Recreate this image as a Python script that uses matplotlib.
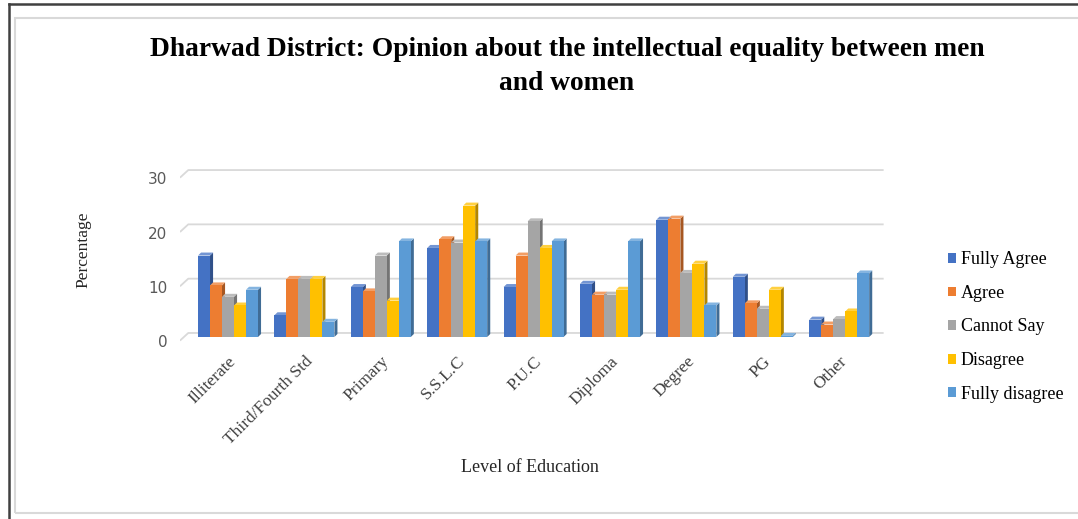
import matplotlib
matplotlib.use('Agg')
import matplotlib.pyplot as plt
from matplotlib.patches import Polygon, Rectangle, Patch
from matplotlib.lines import Line2D
import numpy as np

levels = ['Illiterate', 'Third/Fourth Std', 'Primary', 'S.S.L.C', 'P.U.C',
          'Diploma', 'Degree', 'PG', 'Other']
series = ['Fully Agree', 'Agree', 'Cannot Say', 'Disagree', 'Fully disagree']

fully_agree = [15.0, 4.0, 9.2, 16.4, 9.2, 9.8, 21.6, 11.1, 3.2]
agree = [9.5, 10.7, 8.4, 18.0, 15.0, 7.8, 21.8, 6.2, 2.3]
cannot_say = [7.4, 10.7, 15.0, 17.4, 21.3, 7.8, 11.8, 5.2, 3.3]
disagree = [5.8, 10.7, 6.7, 24.2, 16.4, 8.7, 13.5, 8.7, 4.7]
fully_disagree = [8.7, 2.8, 17.6, 17.6, 17.6, 17.6, 5.8, 0.2, 11.7]

values = [fully_agree, agree, cannot_say, disagree, fully_disagree]
colors = ['#4472C4', '#ED7D31', '#A5A5A5', '#FFC000', '#5B9BD5']


def shade(c, f):
    rgb = np.array(matplotlib.colors.to_rgb(c))
    if f < 1:
        return tuple(rgb * f)
    return tuple(rgb + (1 - rgb) * (f - 1))


fig = plt.figure(figsize=(10.78, 5.19), dpi=100)
ax = fig.add_axes([0.167, 0.3353, 0.6586, 0.3565])
ax.set_xlim(-0.628, 8.665)
ax.set_ylim(-1.47, 32.6)

# fake 3d depth of the bars (x units, y units)
dx, dy = 0.04, 0.55
w = 0.157

# back wall gridlines with a slanted lead-in on the left
for v in [0, 10, 20, 30]:
    ax.plot([-0.62, -0.52, 8.57], [v - 0.55, v + 0.74, v + 0.74],
            color='#d9d9d9', lw=1.3, zorder=0)

x = np.arange(len(levels))
for i, vals in enumerate(values):
    c = colors[i]
    for xi, h in zip(x, vals):
        x0 = xi + (i - 2.5) * w
        x1 = x0 + w
        ax.add_patch(Rectangle((x0, 0), w, h, facecolor=c, edgecolor='none', zorder=3))
        ax.add_patch(Polygon([(x1, 0), (x1 + dx, dy), (x1 + dx, h + dy), (x1, h)],
                             facecolor=shade(c, 0.7), edgecolor='none', zorder=2))
        ax.add_patch(Polygon([(x0, h), (x1, h), (x1 + dx, h + dy), (x0 + dx, h + dy)],
                             facecolor=shade(c, 1.25), edgecolor='none', zorder=2))

ax.set_yticks([-0.8, 9.2, 19.2, 29.2])
ax.set_yticklabels(['0', '10', '20', '30'])
ax.set_xticks(x)
ax.set_xticklabels(levels, rotation=45, ha='right', va='top', rotation_mode='anchor',
                   family='Liberation Serif', fontsize=12.5, color='#404040')
ax.tick_params(axis='y', length=0, pad=9, labelsize=11, labelcolor='#595959')
ax.tick_params(axis='x', length=0, pad=6)
for s in ax.spines.values():
    s.set_visible(False)

fig.text(567 / 1078, 1 - 50 / 519,
         'Dharwad District: Opinion about the intellectual equality between men',
         ha='center', va='center', family='Liberation Serif', fontweight='bold',
         fontsize=19.8)
fig.text(567 / 1078, 1 - 83 / 519, 'and women',
         ha='center', va='center', family='Liberation Serif', fontweight='bold',
         fontsize=19.8)
fig.text(83 / 1078, 1 - 250 / 519, 'Percentage', rotation=90, ha='center', va='center',
         family='Liberation Serif', fontsize=12.5, color='#262626')
fig.text(530 / 1078, 1 - 467 / 519, 'Level of Education', ha='center', va='center',
         family='Liberation Serif', fontsize=13, color='#262626')

handles = [Patch(facecolor=c, edgecolor='none') for c in colors]
fig.legend(handles, series, loc='upper left', bbox_to_anchor=(932 / 1078, 1 - 235 / 519),
           frameon=False, handlelength=0.45, handleheight=0.45, handletextpad=0.25,
           labelspacing=0.92, prop={'family': 'Liberation Serif', 'size': 13})

# chart frames
fig.add_artist(Rectangle((15 / 1078, 1 - 513 / 519), 1.2, (513 - 18) / 519,
                         transform=fig.transFigure, fill=False, edgecolor='#d9d9d9', lw=1.5))
fig.add_artist(Line2D([9 / 1078, 9 / 1078], [-0.1, 1 - 4 / 519],
                      transform=fig.transFigure, color='#404040', lw=1.8))
fig.add_artist(Line2D([9 / 1078, 1.1], [1 - 4 / 519, 1 - 4 / 519],
                      transform=fig.transFigure, color='#404040', lw=1.8))

fig.savefig('out.png', dpi=100)
